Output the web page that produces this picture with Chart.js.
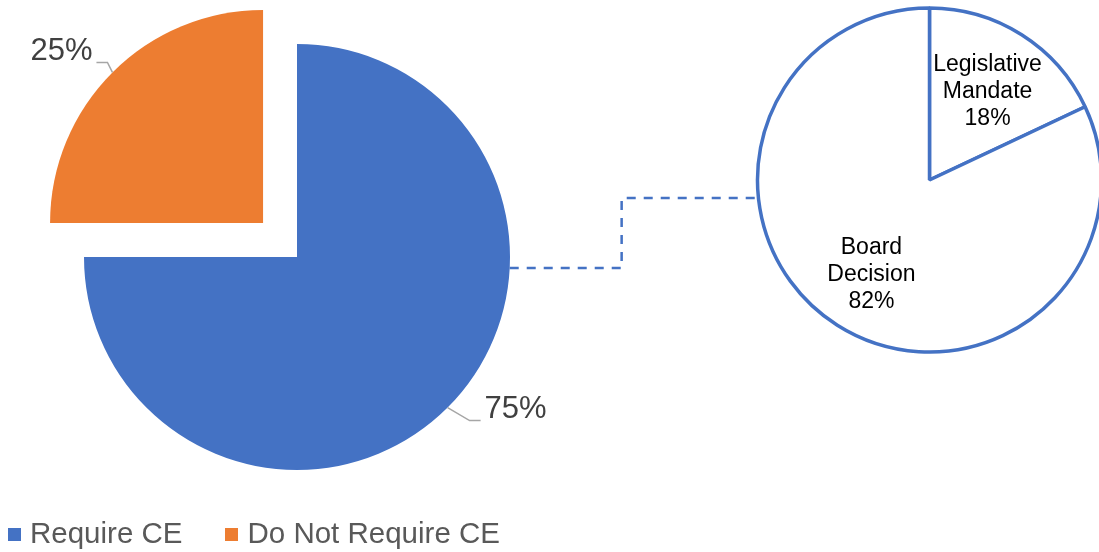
<!DOCTYPE html>
<html>
<head>
<meta charset="utf-8">
<script src="https://cdn.jsdelivr.net/npm/chart.js@4.4.1/dist/chart.umd.min.js"></script>
<style>
  html, body { margin: 0; padding: 0; background: #fff; overflow: hidden; }
  #wrap { position: relative; width: 1099px; height: 552px; }
  #mainBox { position: absolute; left: 0; top: 0; width: 1099px; height: 552px; }
  #subBox { position: absolute; left: 700px; top: 0; width: 399px; height: 360px; }
  #legend { position: absolute; left: 8px; top: 518px; display: flex; align-items: center;
            font: 29.5px/29px "Liberation Sans", Arial, sans-serif; color: #595959; white-space: nowrap; }
  .item { display: flex; align-items: center; margin-right: 43px; }
  .swatch { width: 13px; height: 13px; margin-right: 9px; margin-top: 3px; }
</style>
</head>
<body>
<div id="wrap">
  <div id="mainBox"><canvas id="mainChart"></canvas></div>
  <div id="subBox"><canvas id="subChart"></canvas></div>
  <div id="legend"></div>
</div>
<script>
const mainLabels = ['Require CE', 'Do Not Require CE'];
const mainValues = [75, 25];
const mainColors = ['#4472C4', '#ED7D31'];

const subLabels = [['Legislative', 'Mandate'], ['Board', 'Decision']];
const subValues = [18, 82];

const FONT = '"Liberation Sans", Arial, sans-serif';
Chart.defaults.font.family = FONT;

// text inside the small pie
const subLabelPlugin = {
    id: 'subLabels',
    afterDatasetsDraw(chart) {
        const ctx = chart.ctx;
        const arcs = chart.getDatasetMeta(0).data;
        ctx.save();
        ctx.font = '23px ' + FONT;
        ctx.fillStyle = '#000000';
        ctx.textAlign = 'center';
        ctx.textBaseline = 'middle';
        arcs.forEach((arc, i) => {
            const mid = (arc.startAngle + arc.endAngle) / 2;
            const d = arc.outerRadius * 0.63;
            const x = arc.x + Math.cos(mid) * d;
            const y = arc.y + Math.sin(mid) * d + 3;
            const lines = subLabels[i].concat(subValues[i] + '%');
            lines.forEach((t, k) => {
                ctx.fillText(t, x, y + (k - (lines.length - 1) / 2) * 27);
            });
        });
        ctx.restore();
    }
};

const subChart = new Chart(document.getElementById('subChart'), {
    type: 'pie',
    data: {
        labels: subLabels,
        datasets: [{
            data: subValues,
            backgroundColor: '#FFFFFF',
            borderColor: '#4472C4',
            borderWidth: 3.5,
            clip: false
        }]
    },
    options: {
        responsive: true,
        maintainAspectRatio: false,
        animation: false,
        radius: 172,
        layout: { padding: { left: 60 } },
        plugins: {
            legend: { display: false },
            tooltip: { enabled: false }
        }
    },
    plugins: [subLabelPlugin]
});

// leader lines, value labels and the dashed connector
const mainDecor = {
    id: 'mainDecor',
    afterDatasetsDraw(chart, args, opts) {
        const ctx = chart.ctx;
        const arcs = chart.getDatasetMeta(0).data;
        ctx.save();
        ctx.font = '31px ' + FONT;
        ctx.textBaseline = 'middle';
        arcs.forEach((arc, i) => {
            const mid = (arc.startAngle + arc.endAngle) / 2;
            const shift = (arc.options.offset || 0) / 4;
            const cx = arc.x + Math.cos(mid) * shift;
            const cy = arc.y + Math.sin(mid) * shift;
            const ex = cx + Math.cos(mid) * arc.outerRadius;
            const ey = cy + Math.sin(mid) * arc.outerRadius;
            const ld = opts.leaders[i];
            const bx = ex + ld.dx, by = ey + ld.dy;
            const tx = bx + ld.h;
            ctx.strokeStyle = '#A6A6A6';
            ctx.lineWidth = 1.5;
            ctx.beginPath();
            ctx.moveTo(ex, ey);
            ctx.lineTo(bx, by);
            ctx.lineTo(tx, by);
            ctx.stroke();
            ctx.fillStyle = '#404040';
            ctx.textAlign = ld.h > 0 ? 'left' : 'right';
            ctx.fillText(mainValues[i] + '%', tx + Math.sign(ld.h) * 4, by - 11);
        });

        const a = arcs[0];
        const s = subChart.getDatasetMeta(0).data[0];
        const r1 = chart.canvas.getBoundingClientRect();
        const r2 = subChart.canvas.getBoundingClientRect();
        const sx = s.x + r2.left - r1.left;
        const sy = s.y + r2.top - r1.top;
        const y1 = a.y + opts.joinLeft;
        const x1 = a.x + Math.sqrt(a.outerRadius ** 2 - opts.joinLeft ** 2);
        const y2 = sy + opts.joinRight;
        const x2 = sx - Math.sqrt(s.outerRadius ** 2 - opts.joinRight ** 2);
        const xm = x1 + (x2 - x1) * 0.45;
        ctx.strokeStyle = '#4472C4';
        ctx.lineWidth = 2.5;
        ctx.setLineDash([9, 8]);
        ctx.beginPath();
        ctx.moveTo(x1, y1);
        ctx.lineTo(xm, y1);
        ctx.lineTo(xm, y2);
        ctx.lineTo(x2, y2);
        ctx.stroke();
        ctx.restore();
    }
};

const mainChart = new Chart(document.getElementById('mainChart'), {
    type: 'pie',
    data: {
        labels: mainLabels,
        datasets: [{
            data: mainValues,
            backgroundColor: mainColors,
            borderWidth: 0,
            offset: [0, 192],
            clip: false
        }]
    },
    options: {
        responsive: true,
        maintainAspectRatio: false,
        animation: false,
        radius: 213,
        layout: { padding: { left: 0, right: 505, top: 12, bottom: 50 } },
        plugins: {
            legend: { display: false },
            tooltip: { enabled: false },
            mainDecor: {
                leaders: [
                    { dx: 22, dy: 13, h: 11 },
                    { dx: -5, dy: -10, h: -11 }
                ],
                joinLeft: 11,
                joinRight: 18
            }
        }
    },
    plugins: [mainDecor]
});

// legend
const legend = document.getElementById('legend');
mainLabels.forEach((lab, i) => {
    const item = document.createElement('span');
    item.className = 'item';
    const sw = document.createElement('span');
    sw.className = 'swatch';
    sw.style.background = mainColors[i];
    item.appendChild(sw);
    item.appendChild(document.createTextNode(lab));
    legend.appendChild(item);
});
</script>
</body>
</html>
